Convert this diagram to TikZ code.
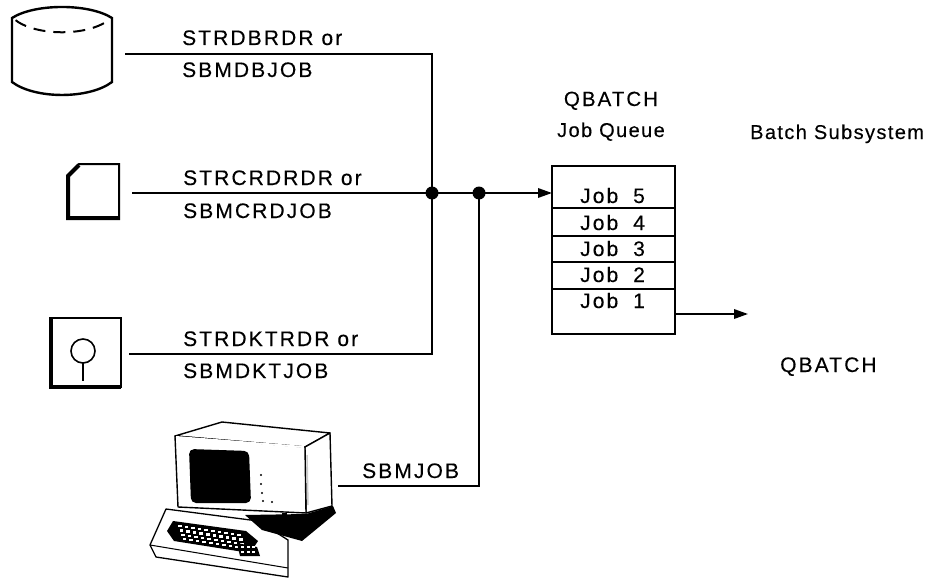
\documentclass[tikz,border=0pt]{standalone}
\usepackage{fontspec}
\setmainfont{Liberation Sans}[LetterSpace=10,FakeBold=0.25]
\usetikzlibrary{arrows.meta,calc}

\begin{document}
\begin{tikzpicture}[x=1pt,y=-1pt,
  wire/.style={line width=1.8pt},
  flow/.style={wire,-{Triangle[length=14pt,width=9.5pt]}},
  junction/.style={circle,fill,inner sep=0pt,minimum size=13pt},
  lbl/.style={font=\fontsize{21}{23}\selectfont,inner sep=0pt,anchor=base west},
  small/.style={font=\fontsize{20}{22}\selectfont\addfontfeatures{LetterSpace=7}},
  ctr/.style={font=\fontsize{20.5}{22}\selectfont,inner sep=0pt,anchor=base},
  icon/.style={line width=2pt},
  heavy/.style={line width=4pt}
]
\useasboundingbox (0,0) rectangle (934,578);

% ---------- database (cylinder) ----------
\draw[icon,line width=2.4pt] (12,18) .. controls (35,3.3) and (89,3.3) .. (112,18)
  -- (112,82) .. controls (89,99.3) and (35,99.3) .. (12,82) -- cycle;
\draw[icon,dash pattern=on 12pt off 8pt,dash phase=-2pt] (14,19) .. controls (35,36.7) and (89,36.7) .. (110,19);
\coordinate (disk) at (125,54);

% ---------- punched card ----------
\draw[icon] (67,176) -- (79,164) -- (119,164) -- (119,219) -- (67,219) -- cycle;
\draw[heavy] (68,219) -- (68,176) -- (79,165);
\draw[heavy] (67,218) -- (119,218);
\coordinate (card) at (132,193);

% ---------- diskette ----------
\draw[icon] (50,318) rectangle (121,387);
\draw[heavy] (51,318) -- (51,387) -- (121,387);
\draw[line width=1.6pt] (83,351) circle (12);
\draw[line width=1.6pt] (83,363) -- (83,381);
\coordinate (dkt) at (129,354);

% ---------- display station ----------
% keyboard tray
\draw[line width=1.3pt,fill=white,line join=round]
  (166,509) -- (258,521) -- (288,540) -- (288,577) -- (156,557) -- (150,545) -- cycle;
\draw[line width=1pt] (150,545) -- (288,568);
% keyboard
\fill (173,521) -- (246,531) -- (258,541) -- (250,553) -- (174,541) -- (167,531) -- cycle;
\foreach \r in {0,1,2,3} {
  \foreach \k in {0,...,9} {
    \fill[white] ($(178,525)+(\k*6.6,\r*4.4)+(\r*1.5,\k*1.0)$) rectangle ++(3.6,2.2);
  }
}
\fill (237,543) -- (257,547) -- (260,556) -- (240,556) -- cycle;
\foreach \r in {0,1} {
  \foreach \k in {0,1,2} {
    \fill[white] ($(241,546)+(\k*5.5,\r*4.5)$) rectangle ++(3,2);
  }
}
% base under the monitor
\fill (245,515) -- (306,514) -- (333,506) -- (336,513) -- (302,541) -- (262,530) -- cycle;
% monitor
\draw[line width=1.4pt,fill=white,line join=round]
  (175,436) -- (222,422) -- (330,433) -- (305,447) -- cycle;
\draw[line width=1.4pt,fill=white,line join=round]
  (305,447) -- (330,433) -- (332,506) -- (306,513) -- cycle;
\draw[line width=1.4pt,fill=white,line join=round]
  (175,436) -- (305,447) -- (306,513) -- (178,507) -- cycle;
\draw[white,line width=2pt] (176,437) -- (304,447);
\draw[gray!40,line width=1.5pt] (307,455) -- (308,505);
% screen
\fill[rounded corners=5pt] (189,449) -- (249,451) -- (251,503) -- (191,503) -- cycle;
% indicator lights
\foreach \p in {(261,475),(261,484),(262,493),(263,501),(272,502)}
  \fill \p circle (1.1);
\fill (282,513) rectangle (287,516);
\coordinate (term) at (338,486);

% ---------- connectors ----------
\coordinate (bus) at (432,193);
\coordinate (tap) at (479,193);
\coordinate (qin) at (552,193);
\coordinate (qout) at (675,314);
\coordinate (sub) at (748,314);

\draw[wire] (disk) -| (bus);
\draw[wire] (dkt) -| (bus);
\draw[wire] (card) -- (bus);
\draw[flow] (bus) -- (qin);
\draw[wire] (term) -| (tap);
\node[junction] at (bus) {};
\node[junction] at (tap) {};
\draw[flow] (qout) -- (sub);

% ---------- labels on the lines ----------
\node[lbl] (l1a) at (182,45) {STRDBRDR or};
\node[lbl] (l1b) at (182,77) {SBMDBJOB};
\node[lbl] (l2a) at (183,185) {STRCRDRDR or};
\node[lbl] (l2b) at (183,218) {SBMCRDJOB};
\node[lbl] (l3a) at (183,346) {STRDKTRDR or};
\node[lbl] (l3b) at (183,378) {SBMDKTJOB};
\node[lbl] (l4) at (362,478) {SBMJOB};

% ---------- job queue ----------
\node[ctr] (qname) at (611,106) {QBATCH};
\node[ctr,small] (qtype) at (611,137) {Job Queue};
\draw[line width=2pt] (552,166) rectangle (675,334);
\foreach \y in {208,236,262,289}
  \draw[line width=1.6pt] (552,\y) -- (675,\y);
\foreach \n/\y in {5/203,4/230,3/256,2/282,1/308} {
  \node[lbl] at (580,\y) {Job};
  \node[lbl] at (633,\y) {\n};
}

% ---------- subsystem ----------
\node[lbl,small] (ss) at (750,139) {Batch Subsystem};
\node[lbl] (sbs) at (780,372) {QBATCH};
\end{tikzpicture}
\end{document}
